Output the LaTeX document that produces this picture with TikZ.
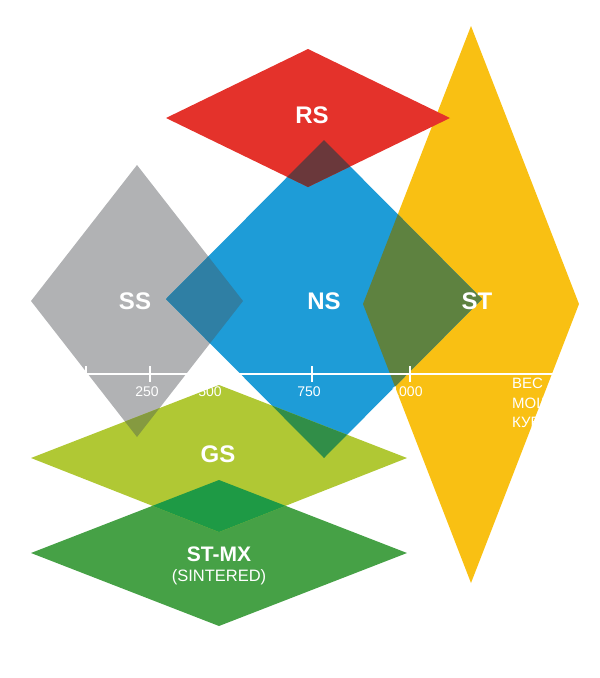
\documentclass[tikz,border=0pt]{standalone}
\usepackage{fontspec}
\setmainfont{Liberation Sans}
\definecolor{rscol}{HTML}{E4322B}
\definecolor{nscol}{HTML}{1E9CD7}
\definecolor{sscol}{HTML}{B1B2B4}
\definecolor{stcol}{HTML}{F9C013}
\definecolor{gscol}{HTML}{B0C834}
\definecolor{mxcol}{HTML}{46A146}
\definecolor{rsns}{HTML}{6A383B}
\definecolor{ssns}{HTML}{2F7FA4}
\definecolor{nsst}{HTML}{5E8240}
\definecolor{ssgs}{HTML}{859A40}
\definecolor{nsgs}{HTML}{318E48}
\definecolor{gsmx}{HTML}{1E9A45}

\begin{document}
\begin{tikzpicture}[x=1pt,y=-1pt]
\tikzset{
    big/.style={text=white, font=\fontsize{24}{24}\selectfont\bfseries, inner sep=0pt},
    small/.style={text=white, font=\fontsize{16.5}{16.5}\selectfont, inner sep=0pt},
    num/.style={text=white, font=\fontsize{14}{14}\selectfont, inner sep=0pt},
    axis/.style={white, line width=2.2pt}}
\useasboundingbox (0,0) rectangle (600,678);

% diamonds: left, top, right, bottom
\def\rs{(166,118)--(308,49)--(450,118)--(308,187)--cycle}
\def\ss{(31,301)--(137,165)--(243,301)--(137,437)--cycle}
\def\ns{(166,299)--(324,140)--(482,299)--(324,458)--cycle}
\def\st{(363,304)--(471,26)--(579,304)--(471,583)--cycle}
\def\gs{(31,458)--(219,385)--(407,458)--(219,532)--cycle}
\def\mx{(31,553)--(219,480)--(407,553)--(219,626)--cycle}

\fill[stcol] \st;
\fill[sscol] \ss;
\fill[nscol] \ns;
\fill[rscol] \rs;
\fill[mxcol] \mx;
\fill[gscol] \gs;

% overlaps
\begin{scope}
  \clip \rs;
  \fill[rsns] \ns;
\end{scope}
\begin{scope}
  \clip \ss;
  \fill[ssns] \ns;
\end{scope}
\begin{scope}
  \clip \ns;
  \fill[nsst] \st;
\end{scope}
\begin{scope}
  \clip \gs;
  \fill[ssgs] \ss;
  \fill[nsgs] \ns;
  \fill[gsmx] \mx;
\end{scope}

% axis
\coordinate (a0) at (84,374);
\coordinate (a1) at (553,374);
\draw[axis] (a0)--(a1);
\foreach \x/\t [count=\i] in {86/,150/250,213/500,312/750,410/1000}{
    \draw[axis, line width=2pt] (\x,366)--(\x,382);
    \node[num] (t\i) at (\x-3,392) {\t};
}
\node[num, font=\fontsize{15}{19.5}\selectfont, align=left, anchor=north west] (unit) at (512,378) {ВЕС\\МОЩ\\КУБ};

\node[big] (rslbl) at (312,115) {RS};
\node[big] (sslbl) at (135,301) {SS};
\node[big] (nslbl) at (324,301) {NS};
\node[big] (stlbl) at (477,301) {ST};
\node[big] (gslbl) at (218,454) {GS};
\node[big, font=\fontsize{21}{21}\selectfont\bfseries] (mxlbl) at (219,554) {ST-MX};
\node[small] (sinter) at (219,577) {(SINTERED)};
\end{tikzpicture}
\end{document}
